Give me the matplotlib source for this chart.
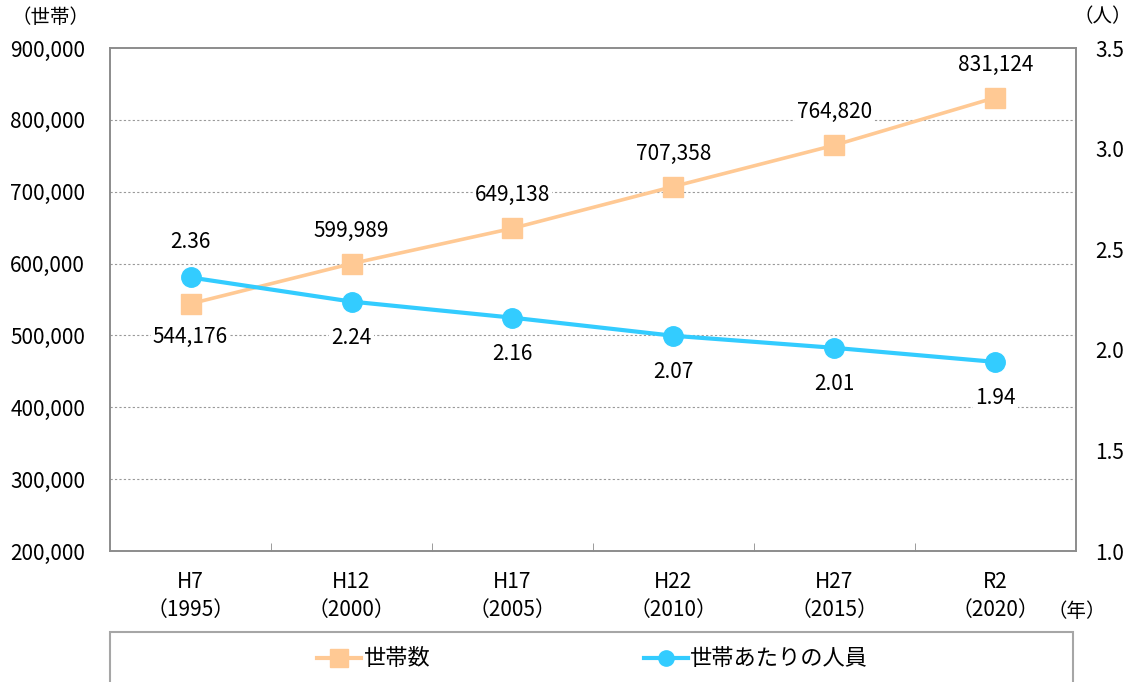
import numpy as np
import matplotlib

matplotlib.use("Agg")
import matplotlib.pyplot as plt
from matplotlib.patches import Rectangle

plt.rcParams["font.family"] = ["Noto Sans CJK JP", "DejaVu Sans"]

# census years and values
eras = ["H7", "H12", "H17", "H22", "H27", "R2"]
years = ["1995", "2000", "2005", "2010", "2015", "2020"]
households = [544176, 599989, 649138, 707358, 764820, 831124]
persons = [2.36, 2.24, 2.16, 2.07, 2.01, 1.94]

orange = "#FFC994"
blue = "#33CCFF"
grey = "#8C8C8C"
fs = 15

fig = plt.figure(figsize=(11.31, 6.82), dpi=100)
ax = fig.add_axes([0.0973, 0.192, 0.854, 0.7375])
ax2 = ax.twinx()

x = np.arange(len(eras))

ax.set_xlim(-0.5, len(eras) - 0.5)
ax.set_ylim(200000, 900000)
ax2.set_ylim(1.0, 3.5)

# horizontal dotted grid on the household axis
for v in range(300000, 900000, 100000):
    ax.axhline(v, color="#999999", lw=0.8, ls=(0, (2, 2)), zorder=0)

ax.plot(x, households, color=orange, lw=2.6, marker="s", ms=14, zorder=3)
ax2.plot(x, persons, color=blue, lw=3, marker="o", ms=14, zorder=3)

box = dict(facecolor="white", edgecolor="none", pad=1.5)
for i, v in enumerate(households):
    dy = 33 if i == 0 else -33
    ax.annotate(f"{v:,}", (x[i], v), xytext=(0, -dy * 0.72), textcoords="offset points",
                ha="center", va="center", fontsize=fs, bbox=box, zorder=4)
for i, v in enumerate(persons):
    dy = -35 if i == 0 else 36
    ax2.annotate(f"{v:.2f}", (x[i], v), xytext=(0, -dy * 0.72), textcoords="offset points",
                 ha="center", va="center", fontsize=fs, bbox=box, zorder=4)

ax.set_yticks(range(200000, 900001, 100000))
ax.set_yticklabels([f"{v:,}" for v in range(200000, 900001, 100000)], fontsize=fs)
ax2.set_yticks(np.arange(1.0, 3.51, 0.5))
ax2.set_yticklabels([f"{v:.1f}" for v in np.arange(1.0, 3.51, 0.5)], fontsize=fs)
ax.tick_params(axis="y", length=0, pad=18)
ax2.tick_params(axis="y", length=0, pad=14)

ax.set_xticks(x)
ax.set_xticklabels([f"{e}\n（{y}）" for e, y in zip(eras, years)], fontsize=fs,
                   linespacing=1.4)
ax.tick_params(axis="x", length=0, pad=14)
ax.set_xticks(np.arange(0.5, len(eras) - 1), minor=True)
ax.tick_params(axis="x", which="minor", direction="in", length=6, color=grey)

for a in (ax, ax2):
    for s in a.spines.values():
        s.set_color(grey)
        s.set_linewidth(1.2)

fig.text(0.045, 0.975, "（世帯）", ha="center", va="center", fontsize=14)
fig.text(0.975, 0.975, "（人）", ha="center", va="center", fontsize=14)
fig.text(0.952, 0.103, "（年）", ha="center", va="center", fontsize=14)

# legend frame running off the bottom edge
fig.patches.append(Rectangle((0.0973, -0.05), 0.851, 0.123, transform=fig.transFigure,
                             fill=False, edgecolor="#A6A6A6", lw=1.5))
h1, = ax.plot([], [], color=orange, lw=3, marker="s", ms=13)
h2, = ax.plot([], [], color=blue, lw=3, marker="o", ms=11)
fig.legend([h1, h2], ["世帯数", "世帯あたりの人員"], loc="center", ncol=2,
           bbox_to_anchor=(0.524, 0.034), frameon=False, fontsize=16,
           handlelength=2.0, handletextpad=0.1, columnspacing=9.6)

fig.savefig("out.png", dpi=100)
